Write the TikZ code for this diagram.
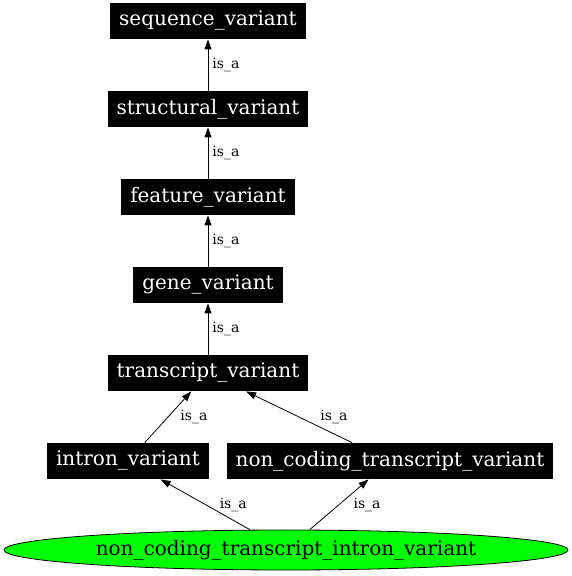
\documentclass[tikz,border=0pt]{standalone}
\usepackage{fontspec}
\setmainfont{DejaVu Serif}
\usetikzlibrary{arrows.meta,shapes.geometric}

\begin{document}
\begin{tikzpicture}[->,>={Triangle[length=10pt,width=7pt]},
    x=1pt,y=1pt,node distance=88pt,line width=0.8pt,
    term/.style={fill=black,text=white,font=\fontsize{20}{22}\selectfont,
      minimum height=36pt,inner xsep=9pt},
    leaf/.style={ellipse,draw=black,fill=green,font=\fontsize{20}{22}\selectfont,
      minimum width=564pt,minimum height=40pt,inner sep=0pt},
    rel/.style={anchor=west,font=\fontsize{14}{16}\selectfont,inner sep=0pt}]
  \useasboundingbox (0,0) rectangle (572,576);

  \node[term] (SV)   at (208,555)       {sequence\_variant};
  \node[term] (STV)  [below of=SV]      {structural\_variant};
  \node[term] (FV)   [below of=STV]     {feature\_variant};
  \node[term] (GV)   [below of=FV]      {gene\_variant};
  \node[term] (TV)   [below of=GV]      {transcript\_variant};
  \node[term] (IV)   [below of=TV, xshift=-80pt]  {intron\_variant};
  \node[term] (NCTV) [below of=TV, xshift=182pt]  {non\_coding\_transcript\_variant};
  \node[leaf] (NCTIV) at (286,26)       {non\_coding\_transcript\_intron\_variant};

  \path (STV)   edge node[rel,xshift=4pt]  {is\_a} (SV)
        (FV)    edge node[rel,xshift=4pt]  {is\_a} (STV)
        (GV)    edge node[rel,xshift=4pt]  {is\_a} (FV)
        (TV)    edge node[rel,xshift=4pt]  {is\_a} (GV)
        (IV)    edge node[rel,xshift=12pt] {is\_a} (TV)
        (NCTV)  edge node[rel,xshift=21pt] {is\_a} (TV)
        (NCTIV) edge node[rel,xshift=14pt] {is\_a} (IV)
                edge node[rel,xshift=14pt] {is\_a} (NCTV)
        ;
\end{tikzpicture}
\end{document}
